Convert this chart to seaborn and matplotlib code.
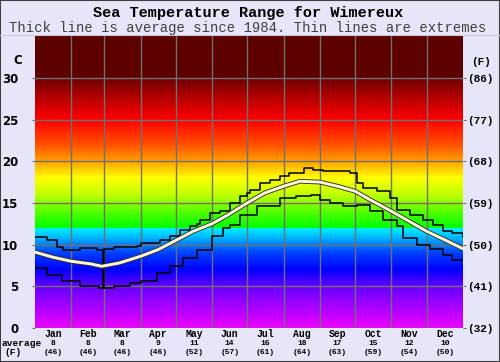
import numpy as np
import pandas as pd
import matplotlib
matplotlib.use('Agg')
import matplotlib.pyplot as plt
import matplotlib.transforms as mtransforms
from matplotlib.colors import LinearSegmentedColormap, Normalize
from matplotlib.patches import Rectangle
from matplotlib.lines import Line2D
import seaborn as sns

#========================================================================================
# data (day of year, deg C)
avg_day = [0, 15, 31, 47, 57, 72, 90, 105, 120, 135, 151, 165, 181, 196, 212, 226,
           243, 258, 273, 288, 304, 319, 334, 349, 365]
avg_temp = [9.1, 8.5, 8.0, 7.7, 7.4, 7.8, 8.6, 9.4, 10.5, 11.6, 12.5, 13.6, 15.0, 16.2,
            17.0, 17.6, 17.5, 17.0, 16.4, 15.2, 14.0, 12.8, 11.6, 10.6, 9.5]

max_day = [0, 10, 19, 24, 38, 53, 58, 59, 67, 87, 90, 107, 115, 124, 132, 138, 141, 149,
           158, 166, 175, 181, 183, 192, 200, 209, 217, 229, 237, 246, 258, 269, 275, 280,
           292, 303, 309, 320, 331, 339, 348, 356, 365]
max_temp = [10.9, 10.6, 9.7, 9.4, 9.6, 9.4, 7.6, 9.5, 9.7, 9.8, 10.2, 10.6, 11.0, 11.8,
            12.2, 12.5, 13.0, 13.8, 14.0, 15.0, 15.8, 16.2, 16.6, 17.4, 17.8, 18.2, 18.6,
            19.2, 18.9, 18.8, 18.8, 18.6, 17.4, 16.8, 16.4, 15.6, 14.2, 13.6, 13.0, 12.4,
            11.6, 11.4, 10.9]

min_day = [0, 10, 23, 38, 55, 58, 59, 67, 81, 90, 104, 115, 126, 138, 151, 160, 166, 175,
           189, 209, 223, 235, 243, 252, 263, 275, 286, 297, 309, 314, 326, 337, 348, 356,
           365]
min_temp = [7.2, 6.4, 5.6, 5.0, 4.8, 7.2, 4.8, 5.0, 5.4, 5.6, 6.6, 7.4, 8.4, 9.4, 11.0,
            12.0, 12.4, 13.6, 14.6, 15.6, 15.8, 16.0, 15.4, 15.0, 14.6, 14.8, 14.0, 13.0,
            12.2, 10.8, 10.0, 9.5, 8.8, 8.2, 8.2]

months = ['Jan', 'Feb', 'Mar', 'Apr', 'May', 'Jun', 'Jul', 'Aug', 'Sep', 'Oct', 'Nov', 'Dec']
month_len = [31, 28, 31, 30, 31, 30, 31, 31, 30, 31, 30, 31]
month_avg_c = [8, 8, 8, 9, 11, 14, 16, 18, 17, 15, 12, 10]
month_avg_f = [46, 46, 46, 46, 52, 57, 61, 64, 63, 59, 54, 50]

c_ticks = [0, 5, 10, 15, 20, 25, 30]
f_labels = ['(32)', '(41)', '(50)', '(59)', '(68)', '(77)', '(86)']

# background colour stops (deg C, colour)
stops = [(0, '#f000ff'), (2.5, '#a800ff'), (5, '#6400ff'), (7, '#0000ff'), (9, '#0040ff'),
         (11, '#00c0ff'), (11.98, '#00f0ff'), (12.0, '#00ff00'), (13.5, '#40ff00'),
         (16, '#c0ff00'), (18, '#ffff00'), (20, '#ffa000'), (22, '#ff5000'), (25, '#ff0000'),
         (27.5, '#b80000'), (29.98, '#6c0000'), (30.0, '#5c0000'), (35, '#5c0000')]

#========================================================================================
bg = '#e6e6f8'
mono = 'Liberation Mono'

fig = plt.figure(figsize=(5.0, 3.62), dpi=100, facecolor=bg)
ax = fig.add_axes([0.07, 0.094, 0.856, 0.806])

cmap = LinearSegmentedColormap.from_list('sea', [(t / 35.0, c) for t, c in stops], N=2048)
grad = np.linspace(0, 35, 3501).reshape(-1, 1)
ax.imshow(grad, extent=[0, 365, 0, 35], origin='lower', aspect='auto', cmap=cmap,
          norm=Normalize(0, 35), interpolation='nearest', zorder=0)

# extremes
sns.lineplot(x=max_day, y=max_temp, ax=ax, color='black', lw=1.1,
             drawstyle='steps-post', estimator=None, sort=False, zorder=3)
sns.lineplot(x=min_day, y=min_temp, ax=ax, color='black', lw=1.1,
             drawstyle='steps-post', estimator=None, sort=False, zorder=3)
# average
sns.lineplot(x=avg_day, y=avg_temp, ax=ax, color='#303030', lw=3.4,
             estimator=None, sort=False, zorder=4)
sns.lineplot(x=avg_day, y=avg_temp, ax=ax, color='#fff8d8', lw=2.1,
             estimator=None, sort=False, zorder=5)

ax.set_xlim(0, 365)
ax.set_ylim(0, 35)
month_start = np.cumsum([0] + month_len)
ax.set_xticks(month_start[1:-1])
ax.set_xticklabels([])
ax.tick_params(axis='x', length=0)
ax.set_yticks(c_ticks)
ax.set_yticklabels([str(t) for t in c_ticks], fontsize=8.5, fontweight='bold',
                   family='DejaVu Sans')
ax.tick_params(axis='y', length=2, color='#707070', pad=10)
ax.grid(True, color='#707070', lw=1.0)
ax.set_axisbelow('line')
for s in ax.spines.values():
    s.set_visible(False)
ax.set_xlabel('')
ax.set_ylabel('')

ax2 = ax.twinx()
ax2.set_ylim(0, 35)
ax2.set_yticks(c_ticks)
ax2.set_yticklabels(f_labels, fontsize=8, fontweight='bold', family=mono)
ax2.tick_params(axis='y', length=2, color='#707070', pad=1)
for s in ax2.spines.values():
    s.set_visible(False)

# month labels
trans = mtransforms.blended_transform_factory(ax.transData, fig.transFigure)
for i, m in enumerate(months):
    xc = month_start[i] + month_len[i] / 2.0
    ax.text(xc, 1 - 334 / 362, m, transform=trans, ha='center', va='center',
            fontsize=7, fontweight='bold', family=mono)
    ax.text(xc, 1 - 343.5 / 362, str(month_avg_c[i]), transform=trans, ha='center',
            va='center', fontsize=5.8, fontweight='bold', family=mono)
    ax.text(xc, 1 - 352.5 / 362, '(%d)' % month_avg_f[i], transform=trans, ha='center',
            va='center', fontsize=5.8, fontweight='bold', family=mono)

fig.text(2 / 500, 1 - 343.5 / 362, 'average', ha='left', va='center', fontsize=6.8,
         fontweight='bold', family=mono)
fig.text(13 / 500, 1 - 352.5 / 362, '(F)', ha='center', va='center', fontsize=6.8,
         fontweight='bold', family=mono)
fig.text(22 / 500, 1 - 61 / 362, 'C', ha='right', va='center', fontsize=8.5,
         fontweight='bold', family='DejaVu Sans')
fig.text(481 / 500, 1 - 62 / 362, '(F)', ha='center', va='center', fontsize=8,
         fontweight='bold', family=mono)

# titles
fig.text(0.496, 1 - 13 / 362, 'Sea Temperature Range for Wimereux', ha='center',
         va='center', fontsize=11, fontweight='bold', family=mono)
fig.text(0.496, 1 - 28 / 362, 'Thick line is average since 1984. Thin lines are extremes',
         ha='center', va='center', fontsize=10, color='#404040', family=mono)
fig.add_artist(Line2D([0, 1], [1 - 34.5 / 362, 1 - 34.5 / 362], transform=fig.transFigure,
                      color='#c8c8d8', lw=0.8))
fig.add_artist(Rectangle((0, 0), 1, 1, transform=fig.transFigure, fill=False,
                         edgecolor='#404040', lw=1.5))

fig.savefig('out.png', dpi=100, facecolor=bg)
